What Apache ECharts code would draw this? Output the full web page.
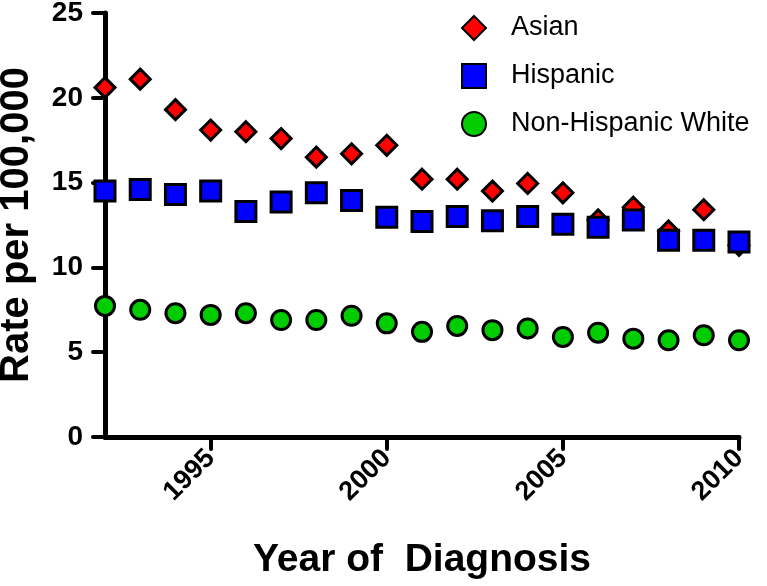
<!DOCTYPE html>
<html>
<head>
<meta charset="utf-8">
<script src="https://cdn.jsdelivr.net/npm/echarts@6/dist/echarts.min.js"></script>
<style>
  html, body { margin: 0; padding: 0; background: #fff; }
  #chart { width: 767px; height: 586px; }
</style>
</head>
<body>
<div id="chart"></div>
<script>
var years = [1992, 1993, 1994, 1995, 1996, 1997, 1998, 1999, 2000, 2001, 2002, 2003, 2004, 2005, 2006, 2007, 2008, 2009, 2010];
var asian = [20.6, 21.1, 19.3, 18.1, 18.0, 17.6, 16.5, 16.7, 17.2, 15.2, 15.2, 14.5, 14.95, 14.4, 12.8, 13.55, 12.15, 13.4, 11.3];
var hispanic = [14.5, 14.6, 14.3, 14.5, 13.3, 13.85, 14.4, 13.95, 12.95, 12.7, 13.0, 12.75, 13.0, 12.55, 12.37, 12.8, 11.6, 11.6, 11.5];
var nonHispanicWhite = [7.73, 7.5, 7.3, 7.2, 7.3, 6.9, 6.9, 7.15, 6.7, 6.2, 6.55, 6.3, 6.4, 5.9, 6.15, 5.8, 5.7, 6.0, 5.7];
var xTickValues = [1995, 2000, 2005, 2010];
var seriesNames = ['Asian', 'Hispanic', 'Non-Hispanic White'];

function pairs(vals) {
  return years.map(function (y, i) { return [y, vals[i]]; });
}

var chart = echarts.init(document.getElementById('chart'), null, { renderer: 'canvas' });
var FONT = "'Liberation Sans', Arial, sans-serif";
var axisLineStyle = { color: '#000', width: 5, cap: 'round' };

chart.setOption({
  animation: false,
  backgroundColor: '#fff',
  grid: { left: 105, right: 28, top: 13, bottom: 149, containLabel: false, outerBoundsMode: 'none' },
  legend: {
    orient: 'vertical',
    left: 456,
    top: 8,
    itemWidth: 24,
    itemHeight: 24,
    itemGap: 18,
    data: seriesNames,
    textStyle: { fontFamily: FONT, fontSize: 27, color: '#000', lineHeight: 30, padding: [0, 0, 0, 20] }
  },
  xAxis: {
    type: 'value',
    min: 1992,
    max: 2010,
    splitLine: { show: false },
    axisLine: { show: true, onZero: false, lineStyle: axisLineStyle },
    axisTick: { show: true, customValues: xTickValues, length: 12, lineStyle: { color: '#000', width: 4, cap: 'round' } },
    axisLabel: {
      customValues: xTickValues,
      formatter: function (v) { return String(v); },
      rotate: 45,
      margin: 17,
      fontFamily: FONT,
      fontWeight: 'bold',
      fontSize: 27,
      color: '#000'
    },
    name: 'Year of  Diagnosis',
    nameLocation: 'middle',
    nameGap: 104,
    nameTextStyle: { fontFamily: FONT, fontWeight: 'bold', fontSize: 39, color: '#000' }
  },
  yAxis: {
    type: 'value',
    min: 0,
    max: 25,
    interval: 5,
    splitLine: { show: false },
    axisLine: { show: true, lineStyle: axisLineStyle },
    axisTick: { show: true, length: 12, lineStyle: { color: '#000', width: 4, cap: 'round' } },
    axisLabel: {
      margin: 22,
      fontFamily: FONT,
      fontWeight: 'bold',
      fontSize: 28,
      color: '#000'
    },
    name: 'Rate per 100,000',
    nameLocation: 'middle',
    nameGap: 68,
    nameTextStyle: { fontFamily: FONT, fontWeight: 'bold', fontSize: 40, color: '#000' }
  },
  series: [
    {
      name: seriesNames[0],
      type: 'scatter',
      symbol: 'diamond',
      symbolSize: 20,
      data: pairs(asian),
      itemStyle: { color: '#ff0000', borderColor: '#000', borderWidth: 3, opacity: 1 }
    },
    {
      name: seriesNames[1],
      type: 'scatter',
      symbol: 'rect',
      symbolSize: 20,
      data: pairs(hispanic),
      itemStyle: { color: '#0000ff', borderColor: '#000', borderWidth: 3, opacity: 1 }
    },
    {
      name: seriesNames[2],
      type: 'scatter',
      symbol: 'circle',
      symbolSize: 19,
      data: pairs(nonHispanicWhite),
      itemStyle: { color: '#00cc00', borderColor: '#000', borderWidth: 3, opacity: 1 }
    }
  ]
});
</script>
</body>
</html>
